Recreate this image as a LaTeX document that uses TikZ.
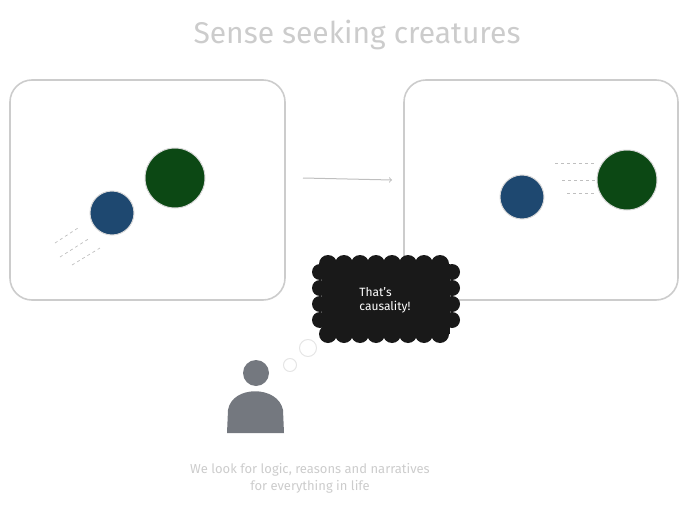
\documentclass[tikz,border=0pt]{standalone}
\usepackage{fontspec}
\setmainfont{Fira Sans}
\definecolor{cblue}{RGB}{30,72,112}
\definecolor{cgreen}{RGB}{12,72,20}
\definecolor{cgray}{RGB}{116,120,127}
\begin{document}
\begin{tikzpicture}[x=1pt,y=-1pt,
  frame/.style={draw=black!20,line width=1.6pt,rounded corners=22pt},
  motion/.style={draw=black!25,dashed,line width=0.7pt},
  bluec/.style={circle,fill=cblue,draw=black!15,line width=1pt,minimum size=44pt,inner sep=0},
  greenc/.style={circle,fill=cgreen,draw=black!15,line width=1pt,minimum size=60pt,inner sep=0}]
\useasboundingbox (0,0) rectangle (688,511);
\node[text=black!20,font=\fontsize{30}{34}\selectfont] (title) at (357,35) {Sense seeking creatures};
\draw[frame] (10,80) rectangle (285,300);
\draw[frame] (404,80) rectangle (678,300);
\coordinate (a1) at (303,178); \coordinate (a2) at (392,180);
\draw[black!25,line width=1pt,->] (a1) -- (a2);
\node[greenc] (g1) at (175,178) {};
\node[bluec] (b1) at (112,213) {};
\draw[motion] (55,243) -- (78,228);
\draw[motion] (60,257) -- (90,238);
\draw[motion] (72,265) -- (100,248);
\node[bluec] (b2) at (522,197) {};
\node[greenc] (g2) at (627,180) {};
\draw[motion] (555,163) -- (595,163);
\draw[motion] (562,180) -- (597,180);
\draw[motion] (567,193) -- (597,193);
% cloud
\fill[black!90] (322,264) rectangle (450,334);
\foreach \x in {328,344,...,446}{\fill[black!90] (\x,264) circle (9); \fill[black!90] (\x,334) circle (9);}
\foreach \y in {272,288,...,330}{\fill[black!90] (320,\y) circle (8); \fill[black!90] (452,\y) circle (8);}
\node[text=white,font=\large,align=left] (cl) at (385,300) {That's\\causality!};
\node[circle,draw=black!10,line width=1pt,minimum size=17pt,inner sep=0] (t1) at (308,348) {};
\node[circle,draw=black!10,line width=1pt,minimum size=13pt,inner sep=0] (t2) at (290,365) {};
\node[circle,fill=cgray,minimum size=26pt,inner sep=0] (head) at (256,373) {};
\fill[cgray] (227,433) -- (228,410) .. controls (232,385) and (278,385) .. (283,410) -- (284,433) -- cycle;
\node[text=black!20,font=\fontsize{13}{17}\selectfont,align=center] (cap) at (310,478) {We look for logic, reasons and narratives\\for everything in life};
\end{tikzpicture}
\end{document}
